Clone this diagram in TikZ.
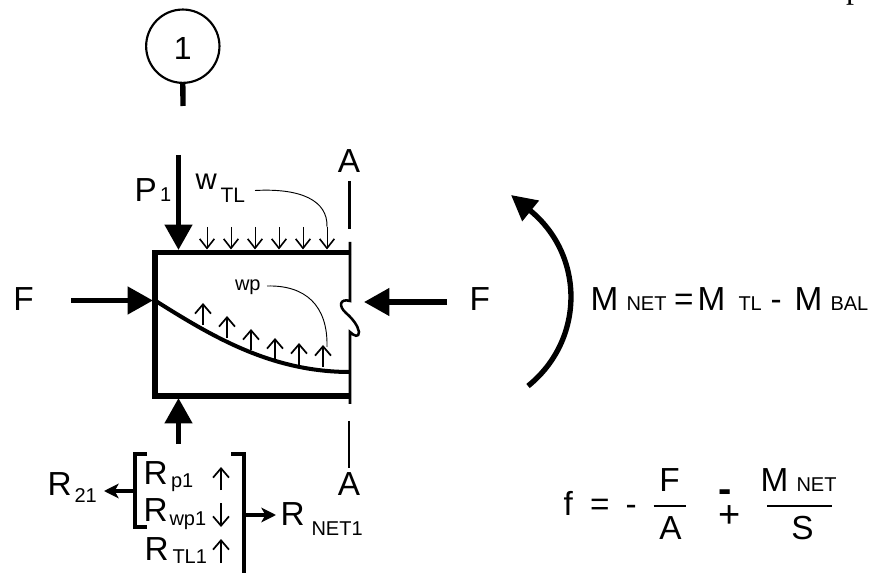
\documentclass[tikz,border=0pt]{standalone}
\usepackage{fontspec}
\setmainfont{Liberation Sans}
\newfontfamily\pagefont{Liberation Serif}
\usetikzlibrary{arrows.meta}
\newcommand{\fs}[1]{\fontsize{#1}{#1}\selectfont}
\tikzset{
    >=Stealth,
    every node/.style={inner sep=0pt, outer sep=0pt},
    bigload/.style={line width=4pt, -{Triangle[length=19pt,width=20pt]}},
    smallreact/.style={line width=3pt, -{Stealth[length=11pt,width=11pt,inset=3pt]}},
    moment/.style={line width=4pt, -{Triangle[length=19pt,width=19pt]}},
    loadarrow/.style={line width=0.6pt, -{Straight Barb[length=7pt,width=11pt,line width=1.2pt]}},
    liftarrow/.style={line width=1pt, -{Straight Barb[length=7pt,width=12pt,line width=1.3pt]}},
    beam/.style={line width=4pt, line join=miter},
    cutline/.style={line width=1.9pt},
    leader/.style={line width=0.7pt},
    main/.style={font=\fs{25}, anchor=base west},
    subs/.style={font=\fs{15}, anchor=base west},
}
\begin{document}
\begin{tikzpicture}[x=0.75pt,y=-0.75pt]
    \useasboundingbox (0,0) rectangle (871,573);
    % section mark
    \node[circle, draw, line width=1.6pt, minimum size=55pt, font=\fs{24}, text height=19.6pt] (mark) at (182.8,46.2) {1};
    \coordinate (markend) at (183,106);
    \draw[line width=4pt] (mark.south) -- (markend);
    \node[font=\pagefont\fs{24}, anchor=base west] (pageno) at (846,-1.5) {p};

    % block
    \coordinate (tl) at (155,252.5);
    \coordinate (tr) at (351,252.5);
    \coordinate (bl) at (155,396);
    \coordinate (br) at (351,396);
    \draw[beam] (tr) -- (tl) -- (bl) -- (br);

    % cut line
    \coordinate (cut1) at (349.5,181);
    \coordinate (cut2) at (349.5,229);
    \coordinate (cut3) at (350,242);
    \coordinate (cut4) at (350,301);
    \coordinate (cut5) at (350,332);
    \coordinate (cut6) at (350,404);
    \coordinate (cut7) at (349,421);
    \coordinate (cut8) at (349,468);
    \draw[cutline] (cut1) -- (cut2);
    \draw[cutline] (cut3) -- (cut4) .. controls (340,298) and (338,306) .. (346,313)
        .. controls (353,319) and (358,326) .. (359,332) .. controls (359,338) and (354,336) .. (cut5) -- (cut6);
    \draw[cutline] (cut7) -- (cut8);
    \node[main, anchor=base] (Atop) at (349,172.5) {A};
    \node[main, anchor=base] (Abot) at (349,495) {A};

    % tendon
    \coordinate (tendonL) at (155,300.5);
    \coordinate (tendonR) at (350,372);
    \draw[line width=3pt] (tendonL) .. controls (210,335) and (270,372) .. (tendonR);

    % point load
    \coordinate (p1start) at (178.5,155);
    \coordinate (p1tip) at (178.5,250);
    \draw[bigload] (p1start) -- (p1tip);
    \node[main] (P) at (134.5,202) {P};
    \node[subs] (Psub) at (160,202) {1};
    \node[main, font=\fs{22}] (w) at (195.5,190) {w};
    \node[subs, font=\fs{15.7}] (wsub) at (220.5,203) {TL};

    % top load
    \coordinate (w1) at (207,227); \coordinate (w1e) at (207,249.5);
    \coordinate (w2) at (231,227); \coordinate (w2e) at (231,249.5);
    \coordinate (w3) at (255,227); \coordinate (w3e) at (255,249.5);
    \coordinate (w4) at (279,227); \coordinate (w4e) at (279,249.5);
    \coordinate (w5) at (303,227); \coordinate (w5e) at (303,249.5);
    \coordinate (w6) at (327,227); \coordinate (w6e) at (327,249.5);
    \draw
    (w1) edge[loadarrow] (w1e)
    (w2) edge[loadarrow] (w2e)
    (w3) edge[loadarrow] (w3e)
    (w4) edge[loadarrow] (w4e)
    (w5) edge[loadarrow] (w5e)
    (w6) edge[loadarrow] (w6e)
    ;
    \coordinate (wlead) at (255,190.5);
    \draw[leader] (wlead) .. controls (300,188) and (328,200) .. (w6);

    % tendon load
    \coordinate (u1) at (203,325); \coordinate (u1e) at (203,303);
    \coordinate (u2) at (227,338); \coordinate (u2e) at (227,316);
    \coordinate (u3) at (251,350); \coordinate (u3e) at (251,329);
    \coordinate (u4) at (275,359); \coordinate (u4e) at (275,338);
    \coordinate (u5) at (299,365); \coordinate (u5e) at (299,343);
    \coordinate (u6) at (323,367); \coordinate (u6e) at (323,345);
    \draw
    (u1) edge[liftarrow] (u1e)
    (u2) edge[liftarrow] (u2e)
    (u3) edge[liftarrow] (u3e)
    (u4) edge[liftarrow] (u4e)
    (u5) edge[liftarrow] (u5e)
    (u6) edge[liftarrow] (u6e)
    ;
    \node[subs] (wp) at (235,291) {wp};
    \coordinate (wplead) at (267,286);
    \coordinate (wpend) at (327,347);
    \draw[leader] (wplead) .. controls (305,285) and (328,305) .. (wpend);

    % prestress
    \coordinate (Fl) at (71,300.5);
    \coordinate (Fltip) at (153,300.5);
    \coordinate (Fr) at (447,302);
    \coordinate (Frtip) at (364,302);
    \draw[bigload] (Fl) -- (Fltip);
    \draw[bigload] (Fr) -- (Frtip);
    \node[main] (Fleft) at (13.5,311) {F};
    \node[main] (Fright) at (469.5,311) {F};

    % reaction
    \coordinate (react) at (178.5,444);
    \coordinate (reacttip) at (178.5,398);
    \draw[bigload] (react) -- (reacttip);

    % brackets
    \coordinate (bL1) at (147,454);
    \coordinate (bL2) at (135,454);
    \coordinate (bL3) at (135,527);
    \coordinate (bL4) at (147,527);
    \coordinate (bR1) at (231,454);
    \coordinate (bR2) at (244,454);
    \coordinate (bR3) at (244,574);
    \draw[line width=3pt] (bL1) -- (bL2) -- (bL3) -- (bL4);
    \draw[line width=3pt] (bR1) -- (bR2) -- (bR3);

    % reactions list
    \node[main] (Rp) at (143.5,484) {R};
    \node[subs] (Rpsub) at (171,487) {p1};
    \node[main] (Rwp) at (143.5,521) {R};
    \node[subs] (Rwpsub) at (169.5,525) {wp1};
    \node[main] (Rtl) at (144.5,560) {R};
    \node[subs] (Rtlsub) at (172.5,563) {TL1};
    \coordinate (a1) at (221,490); \coordinate (a1e) at (221,467);
    \coordinate (a2) at (221,503); \coordinate (a2e) at (221,527);
    \coordinate (a3) at (221,563); \coordinate (a3e) at (221,539);
    \draw
    (a1) edge[liftarrow] (a1e)
    (a2) edge[liftarrow] (a2e)
    (a3) edge[liftarrow] (a3e)
    ;

    % reaction outputs
    \coordinate (Rout) at (135,491);
    \coordinate (Routtip) at (104,491);
    \coordinate (Rnet) at (244,515);
    \coordinate (Rnettip) at (276,515);
    \draw[smallreact] (Rout) -- (Routtip);
    \draw[smallreact] (Rnet) -- (Rnettip);
    \node[main] (R21) at (47.5,495) {R};
    \node[subs] (R21sub) at (74.5,502) {21};
    \node[main] (Rn) at (280.5,525) {R};
    \node[subs] (Rnsub) at (311.5,535) {NET1};

    % moment
    \coordinate (mstart) at (528,386);
    \coordinate (mtip) at (511,195);
    \draw[moment] (mstart) .. controls (585,340) and (585,255) .. (mtip);

    % moment equation
    \node[main] (M1) at (590.5,311) {M};
    \node[subs] (M1sub) at (626.5,311) {NET};
    \node[main] (eq1) at (674,311) {=};
    \node[main] (M2) at (697.5,311) {M};
    \node[subs] (M2sub) at (738.5,311) {TL};
    \node[main] (minus) at (770.5,311) {-};
    \node[main] (M3) at (794.5,311) {M};
    \node[subs] (M3sub) at (830.5,311) {BAL};

    % stress equation
    \node[main] (f) at (563.5,515) {f};
    \node[main] (eq2) at (590,515) {=};
    \node[main] (neg) at (625.5,515) {-};
    \node[main, anchor=base] (fF) at (669.5,491) {F};
    \node[main, anchor=base] (fA) at (670.5,539) {A};
    \coordinate (barL) at (653.5,506);
    \coordinate (barR) at (685.5,506);
    \draw[line width=1.2pt] (barL) -- (barR);
    \node[font=\bfseries\fs{30}, anchor=base] (pmminus) at (725.5,502) {-};
    \node[anchor=base, font=\fs{28.5}] (pmplus) at (729.5,527) {+};
    \node[main] (fM) at (760.5,491) {M};
    \node[subs] (fMsub) at (796.5,491) {NET};
    \coordinate (barL2) at (767,506);
    \coordinate (barR2) at (832,506);
    \draw[line width=1.2pt] (barL2) -- (barR2);
    \node[main, anchor=base] (fS) at (802.5,539) {S};
\end{tikzpicture}
\end{document}
